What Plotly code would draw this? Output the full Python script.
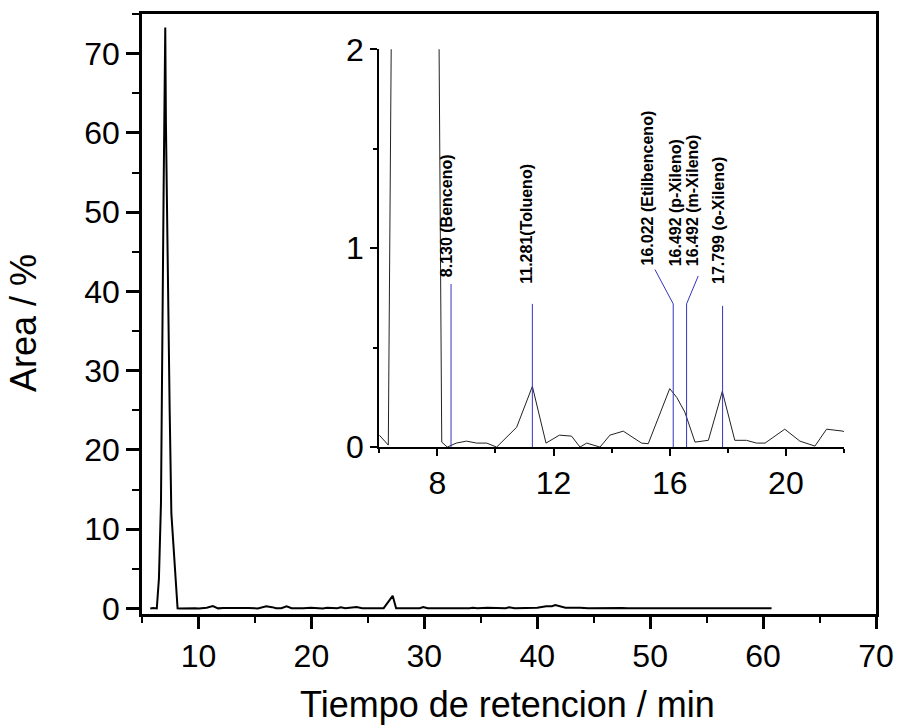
import plotly.graph_objects as go

# ---- data ----
time_min = [5.73, 6.0, 6.31, 6.5, 6.68, 6.77, 6.86, 6.92, 6.98, 7.06, 7.12, 7.22, 7.33,
            7.45, 7.6, 7.8, 8.15, 8.34, 8.65, 9.0, 9.35, 9.7, 10.04, 10.73, 11.27, 11.74,
            12.2, 12.62, 12.91, 13.14, 13.6, 13.94, 14.4, 15.03, 15.26, 16.0, 16.24, 16.52,
            16.87, 17.33, 17.81, 18.24, 18.64, 18.99, 19.28, 19.96, 20.48, 21.0, 21.4,
            21.97, 22.3, 22.6, 23.0, 24.0, 24.5, 26.4, 27.2, 27.5, 29.6, 29.9, 30.3, 34.0,
            34.3, 34.7, 35.6, 37.2, 37.5, 38.0, 40.0, 40.8, 41.3, 41.6, 42.0, 42.5, 43.8,
            44.5, 47.5, 48.0, 60.75]
area_pct = [0.0, 0.06, 0.01, 3.8, 13.3, 24.7, 43.6, 53.6, 63.5, 73.3, 61.0, 48.0, 36.0,
            25.0, 12.0, 7.6, 0.025, 0.0, 0.02, 0.03, 0.02, 0.02, 0.0, 0.1, 0.305, 0.02,
            0.06, 0.055, 0.0, 0.02, 0.0, 0.06, 0.08, 0.02, 0.017, 0.294, 0.25, 0.176,
            0.025, 0.034, 0.28, 0.034, 0.034, 0.02, 0.02, 0.09, 0.03, 0.005, 0.09,
            0.08, 0.04, 0.15, 0.03, 0.2, 0.05, 0.05, 1.6, 0.04, 0.04, 0.2, 0.03, 0.03,
            0.1, 0.03, 0.1, 0.03, 0.15, 0.03, 0.1, 0.3, 0.3, 0.45, 0.3, 0.1, 0.1,
            0.03, 0.08, 0.02, 0.02]

main_xticks = [10, 20, 30, 40, 50, 60, 70]
main_yticks = [0, 10, 20, 30, 40, 50, 60, 70]
inset_xticks = [8, 12, 16, 20]
inset_yticks = [0, 1, 2]

# identified peaks (inset)
peak_line_x = [8.47, 11.27, 16.12, 16.58, 17.82]
peak_line_top = [0.82, 0.72, 0.72, 0.72, 0.71]
leader_from_x = [16.12, 16.58]
leader_from_y = [0.72, 0.72]
leader_to_x = [15.49, 16.98]
leader_to_y = [0.893, 0.86]
peak_labels = ["8.130 (Benceno)", "11.281(Tolueno)", "16.022 (Etilbenceno)",
               "16.492 (p-Xileno)", "16.492 (m-Xileno)", "17.799 (o-Xileno)"]
label_x = [8.34, 11.07, 15.22, 16.18, 16.81, 17.67]
label_y = [0.848, 0.814, 0.906, 0.906, 0.906, 0.814]

FONT = "Arial, Liberation Sans, sans-serif"

fig = go.Figure()

# main chromatogram
fig.add_trace(go.Scatter(x=time_min, y=area_pct, mode="lines",
                         line=dict(color="black", width=2), xaxis="x", yaxis="y",
                         showlegend=False, hoverinfo="skip"))
# inset chromatogram
fig.add_trace(go.Scatter(x=time_min, y=area_pct, mode="lines",
                         line=dict(color="#222222", width=1), xaxis="x2", yaxis="y2",
                         showlegend=False, hoverinfo="skip"))

# blue peak markers
vx, vy = [], []
for px, pt in zip(peak_line_x, peak_line_top):
    vx += [px, px, None]
    vy += [0, pt, None]
for fx, fy, tx, ty in zip(leader_from_x, leader_from_y, leader_to_x, leader_to_y):
    vx += [fx, tx, None]
    vy += [fy, ty, None]
fig.add_trace(go.Scatter(x=vx, y=vy, mode="lines", line=dict(color="#3535c0", width=1),
                         xaxis="x2", yaxis="y2", showlegend=False, hoverinfo="skip"))

for t, lx, ly in zip(peak_labels, label_x, label_y):
    fig.add_annotation(x=lx, y=ly, xref="x2", yref="y2", text=f"<b>{t}</b>",
                       textangle=-90, showarrow=False, xanchor="center", yanchor="bottom",
                       font=dict(family=FONT, size=16, color="black"), borderpad=0)

# axis titles
fig.add_annotation(x=-0.162, y=0.485, xref="paper", yref="paper", text="Area / %",
                   textangle=-90, showarrow=False, xanchor="center", yanchor="middle",
                   font=dict(family=FONT, size=36, color="black"))
fig.add_annotation(x=0.498, y=-0.114, xref="paper", yref="paper",
                   text="Tiempo de retencion / min", showarrow=False,
                   xanchor="center", yanchor="top",
                   font=dict(family=FONT, size=36, color="black"))

axis_common = dict(showgrid=False, zeroline=False, showline=True, linecolor="black",
                   ticks="outside", tickcolor="black", automargin=False,
                   tickfont=dict(family=FONT, size=32, color="black"))

fig.update_layout(
    width=898, height=726,
    margin=dict(l=142, r=22, t=14, b=112, autoexpand=False),
    paper_bgcolor="white", plot_bgcolor="white",
    font=dict(family=FONT, color="black"),
    xaxis=dict(**axis_common, range=[5, 70], tickmode="array", tickvals=main_xticks,
               linewidth=2.5, tickwidth=2.5, ticklen=12, mirror=True,
               minor=dict(ticks="outside", dtick=5, tick0=0, ticklen=6, tickwidth=2,
                          tickcolor="black"),
               domain=[0, 1], anchor="y"),
    yaxis=dict(**axis_common, range=[-0.69, 75], tickmode="array", tickvals=main_yticks,
               linewidth=2.5, tickwidth=2.5, ticklen=13, mirror=True,
               minor=dict(ticks="outside", dtick=5, tick0=0, ticklen=7, tickwidth=2,
                          tickcolor="black"),
               domain=[0, 1], anchor="x"),
    xaxis2=dict(**axis_common, range=[6, 22], tickmode="array", tickvals=inset_xticks,
                linewidth=2, tickwidth=2, ticklen=7,
                minor=dict(ticks="outside", dtick=2, tick0=0, ticklen=4, tickwidth=1.5,
                           tickcolor="black"),
                domain=[0.3233, 0.9564], anchor="y2"),
    yaxis2=dict(**axis_common, range=[0, 2], tickmode="array", tickvals=inset_yticks,
                linewidth=2, tickwidth=2, ticklen=7,
                minor=dict(ticks="outside", dtick=0.5, tick0=0, ticklen=4, tickwidth=1.5,
                           tickcolor="black"),
                domain=[0.2782, 0.9411], anchor="x2"),
)

fig.write_html("out.html", config={"displayModeBar": False},
               post_script="document.body.style.margin='0px';"
                           "document.body.style.overflow='hidden';")
